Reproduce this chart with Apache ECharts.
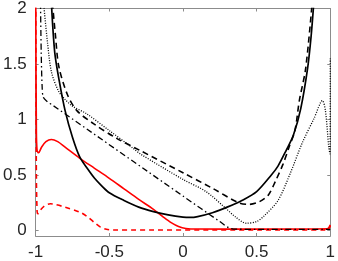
<!DOCTYPE html>
<html><head><meta charset="utf-8">
<script src="https://cdn.jsdelivr.net/npm/echarts@6/dist/echarts.min.js"></script>
<style>html,body{margin:0;padding:0;background:#fff}#c{width:338px;height:261px}</style>
</head><body><div id="c"></div>
<script>
var xTicks = [-1, -0.5, 0, 0.5, 1];
var yTicks = [0, 0.5, 1, 1.5, 2];

var blackSolid = [[-0.893,2.05],[-0.87,1.6],[-0.84,1.35],[-0.8,1.08],[-0.75,0.84],[-0.7,0.66],[-0.65,0.56],[-0.6,0.47],[-0.55,0.40],[-0.5,0.34],[-0.4,0.27],[-0.3,0.21],[-0.2,0.17],[-0.1,0.14],[0,0.12],[0.05,0.117],[0.1,0.125],[0.2,0.16],[0.3,0.21],[0.4,0.27],[0.5,0.35],[0.6,0.5],[0.645,0.58],[0.7,0.72],[0.75,0.86],[0.8,1.1],[0.846,1.46],[0.87,1.75],[0.888,2.05]];
var blackDashed = [[-0.886,2.05],[-0.865,1.75],[-0.843,1.48],[-0.786,1.23],[-0.72,1.08],[-0.605,0.96],[-0.45,0.83],[-0.29,0.72],[0,0.52],[0.2,0.38],[0.378,0.25],[0.45,0.235],[0.52,0.26],[0.58,0.32],[0.63,0.45],[0.68,0.6],[0.72,0.75],[0.76,0.9],[0.79,1.17],[0.833,1.46],[0.877,2.05]];
var blackDotted = [[-0.946,2.05],[-0.92,1.7],[-0.893,1.43],[-0.846,1.26],[-0.8,1.18],[-0.75,1.12],[-0.652,1.05],[-0.5,0.9],[-0.338,0.74],[-0.29,0.69],[0,0.46],[0.157,0.35],[0.29,0.2],[0.358,0.12],[0.43,0.065],[0.5,0.08],[0.55,0.13],[0.645,0.27],[0.73,0.52],[0.81,0.79],[0.89,1.01],[0.947,1.17],[0.967,1.08],[0.99,0.75],[0.998,0.69],[1.0,1.55]];
var blackDashDot = [[-0.967,2.05],[-0.962,1.6],[-0.956,1.3],[-0.948,1.2],[-0.92,1.16],[-0.886,1.13],[0,0.31],[0.25,0.08],[0.31,0.025],[0.36,0.012],[0.5,0.01],[0.8,0.01],[1.0,0.01]];
var redSolid = [[-0.999,2.05],[-0.995,0.9],[-0.99,0.72],[-0.98,0.70],[-0.96,0.75],[-0.93,0.80],[-0.893,0.82],[-0.85,0.80],[-0.8,0.75],[-0.7,0.65],[-0.6,0.56],[-0.5,0.47],[-0.4,0.375],[-0.3,0.28],[-0.2,0.19],[-0.137,0.125],[-0.08,0.07],[-0.03,0.035],[0.02,0.018],[0.1,0.013],[0.5,0.012],[0.98,0.015],[1.0,0.05]];
var redDashed = [[-0.999,2.05],[-0.995,0.5],[-0.99,0.17],[-0.985,0.15],[-0.97,0.18],[-0.94,0.22],[-0.9,0.24],[-0.87,0.235],[-0.8,0.21],[-0.7,0.165],[-0.65,0.125],[-0.6,0.07],[-0.56,0.03],[-0.52,0.01],[-0.48,0.004],[0.5,0.004],[0.98,0.005],[1.0,0.04]];

var axisCol = '#8c8c8c';
var labelStyle = {color:'#262626', fontFamily:'Liberation Sans, Arial, sans-serif', fontSize:17};
function xa(pos, show){
  return {type:'value', min:-1, max:1, position:pos,
    axisLine:{show:true, onZero:false, lineStyle:{color:axisCol, width:1}},
    axisTick:{show:true, inside:true, length:3, customValues:xTicks, lineStyle:{color:axisCol}},
    axisLabel:{show:show, customValues:xTicks, margin:8, formatter:function(v){return String(v);} , color:labelStyle.color, fontFamily:labelStyle.fontFamily, fontSize:labelStyle.fontSize},
    splitLine:{show:false}};
}
function ya(pos, show){
  return {type:'value', min:-0.05, max:2, position:pos,
    axisLine:{show:true, onZero:false, lineStyle:{color:axisCol, width:1}},
    axisTick:{show:true, inside:true, length:3, customValues:yTicks, lineStyle:{color:axisCol}},
    axisLabel:{show:show, customValues:yTicks, margin:9, formatter:function(v){return String(v);}, color:labelStyle.color, fontFamily:labelStyle.fontFamily, fontSize:labelStyle.fontSize},
    splitLine:{show:false}};
}
function s(data, color, type, width){
  return {type:'line', data:data, xAxisIndex:0, yAxisIndex:0, showSymbol:false, symbol:'none', smooth:0.3, clip:true,
    lineStyle:{color:color, type:type, width:width}, animation:false};
}
var chart = echarts.init(document.getElementById('c'), null, {renderer:'canvas'});
chart.setOption({
  animation:false,
  grid:{left:34, right:5, top:7, bottom:25, containLabel:false},
  xAxis:[xa('bottom', true), xa('top', false)],
  yAxis:[ya('left', true), ya('right', false)],
  series:[
    s(redDashed, '#ff0000', [5,4], 1.6),
    s(redSolid, '#ff0000', 'solid', 1.6),
    s(blackDashDot, '#000000', [6,3,1.5,3], 1.3),
    s(blackDotted, '#000000', [1,1.5], 1.3),
    s(blackDashed, '#000000', [6,4], 1.6),
    s(blackSolid, '#000000', 'solid', 1.7)
  ]
});
</script></body></html>
